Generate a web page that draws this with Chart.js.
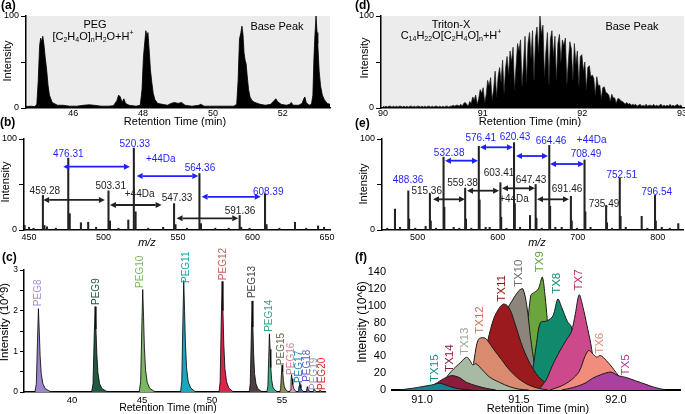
<!DOCTYPE html>
<html>
<head>
<meta charset="utf-8">
<script src="https://cdn.jsdelivr.net/npm/chart.js@4.4.0/dist/chart.umd.min.js"></script>
<style>
  body { margin: 0; background: #fff; width: 685px; height: 414px; position: relative; overflow: hidden; }
  canvas { position: absolute; }
</style>
</head>
<body>
<canvas id="a"></canvas>
<canvas id="d"></canvas>
<canvas id="b"></canvas>
<canvas id="e"></canvas>
<canvas id="c"></canvas>
<canvas id="f"></canvas>
<script>
const F = "'Liberation Sans', Arial, Helvetica, sans-serif";
const BLUE = "#1f1fff";
const DARK = "#222";

// (a) PEG base peak chromatogram
const aTime = [44.65,44.8,44.9,44.96,45.0,45.04,45.07,45.1,45.13,45.16,45.2,45.24,45.28,45.32,45.36,45.4,45.45,45.55,45.7,45.9,
  46.1,46.3,46.45,46.6,46.8,47.0,47.15,47.25,47.3,47.35,47.4,47.45,47.5,47.6,47.8,47.92,47.97,48.01,48.05,48.08,
  48.11,48.14,48.18,48.21,48.25,48.29,48.34,48.42,48.55,48.7,48.8,48.9,49.0,49.1,49.2,49.4,49.6,49.65,49.75,50.0,
  50.3,50.6,50.68,50.72,50.76,50.8,50.83,50.86,50.89,50.92,50.95,50.98,51.02,51.06,51.12,51.2,51.35,51.5,51.65,51.75,
  51.8,51.85,51.95,52.1,52.2,52.24,52.3,52.45,52.55,52.6,52.63,52.67,52.75,52.82,52.86,52.89,52.92,52.95,52.98,53.0,
  53.04,53.08,53.13,53.19,53.27,53.35];
const aInt = [1.5,2,1.5,4,30,68,76,72,78,70,55,42,25,14,10,6,5,3,3,2,
  2,3,3.5,3,2,2,2.5,8,14,12,6,10,5,3,2,3,20,55,72,84,
  78,82,60,42,28,16,9,5,4,3,5,6,5,6,3,2,3,4,2,2,
  2,2,4,30,75,82,89,80,60,52,48,35,20,12,8,6,4,3,4,8,
  10,7,4,3,4,6,3,3,5,10,12,6,3,4,14,54,80,100,82,70,
  40,24,14,9,5,4];
const aXTicks = [46, 48, 50, 52];

// (d) Triton-X base peak, one scan every 0.015 min from 90.00
const dStart = 90.0, dStep = 0.015;
const dInt = [2,1,2,1,2,2,1,2,1,2, 1,2,2,1,2,1,2,1,2,2, 1,2,1,2,2,1,2,1,2,1, 2,2,1,2,1,2,2,1,2,1, 2,1,2,2,1,2,2,3,2,3,
  3,2,4,2,5,6,4,2,7,5, 12,9,14,4,10,20,16,22,6,14, 30,24,33,9,20,40,12,34,44,28,
  52,16,44,56,36,62,50,66,20,45, 70,62,74,24,48,78,28,70,82,55, 84,30,76,88,60,100,80,90,34,62,
  82,26,75,84,56,78,30,70,80,50, 74,68,76,26,52,72,64,30,70,48, 62,24,56,58,40,50,20,44,46,34,
  36,32,14,34,24,25,10,22,23,17, 16,14,7,15,11,11,5,10,10,8, 7,6,4,6,
  4,5,3,4,3,4,2,3,4,2, 3,2,4,2,3,3,2,4,2,3, 2,3,4,2,3,2,3,2,4,2, 3,2,3,4,2,3,2];
const dXTicks = [90, 91, 92, 93];

// (b) PEG mass spectrum
const bMz = [447,450,453,459.28,460.3,462,468,476.31,477.3,484.8,489.7,495,503.31,504.3,510,516.6,520.33,521.5,530,540,
  547.33,548.3,556,564.36,565.4,575,584,591.36,592.4,598,608.39,609.4,618,628.5,636,644,648];
const bInt = [5,3,2,38,5,3.5,2,79,18,8,8.5,3,43,10,2,11,90,20,2,3,
  29,6,2,62,7,2,2,16,3,2,40,6,2,8.5,2,4.5,3];
const bXTicks = [450, 500, 550, 600, 650];
const bLabels = [["476.31",476.3,83.2,BLUE],["520.33",521.0,94.5,BLUE],["+44Da",538.4,77.3,BLUE],["564.36",564.7,67.8,BLUE],
  ["608.39",610.5,41.5,BLUE],["459.28",460.6,42.9,DARK],["503.31",504.8,48.4,DARK],["+44Da",524.2,39.6,DARK],
  ["547.33",549.3,34.8,DARK],["591.36",591.6,20.9,DARK]];
const bArrows = [[472.9,517.7,69.6,BLUE],[522.2,563.6,59.3,BLUE],[565.8,605.5,36.5,BLUE],
  [459.5,500.9,33,DARK],[504.3,539,27.5,DARK],[549,590.4,12.8,DARK]];

// (e) Triton-X mass spectrum
const eMz = [462,471.7,478,488.36,489.4,497,510,515.36,516.4,523,532.38,533.4,545,552,559.38,560.4,567,576.41,577.4,585,
  590,603.41,604.4,611,620.43,621.4,628,640.4,647.43,648.4,655,664.46,665.5,672,680,691.46,692.5,699,708.49,709.5,
  716,735.49,736.5,743,752.51,753.5,760,779.9,787,796.54,797.5,805,815,825.6];
const eInt = [2,23,3,43,12,2,4,40,10,2,80,25,3,2,46,12,2,92,33,3,
  3,52,14,2,96,29,3,16,50,13,2,93,26,3,3,37,10,2,77,20,
  3,27,8,2,57,15,3,15,2,38,10,3,2,7];
const eXTicks = [500, 600, 700, 800];
const eLabels = [["488.36",488.0,55,BLUE],["515.36",511.3,43,DARK],["532.38",539.4,84.6,BLUE],["559.38",556.1,51.6,DARK],
  ["576.41",578.9,101,BLUE],["603.41",601.7,62.6,DARK],["620.43",621.6,101.4,BLUE],["647.43",641.6,55,DARK],
  ["664.46",666.6,97,BLUE],["691.46",686.6,45,DARK],["708.49",710.3,83.5,BLUE],["735.49",732.8,28.6,DARK],
  ["752.51",755.0,60.4,BLUE],["796.54",798.7,41.8,BLUE],["+44Da",717.5,98.9,BLUE],["+44Da",620.4,34,DARK]];
const eArrows = [[534.2,575.4,76.2,BLUE],[577.9,619.1,90.9,BLUE],[622.9,662.9,81.3,BLUE],[665.4,707.9,72.5,BLUE],
  [519.2,559.2,33.7,DARK],[561.7,601.7,43.2,DARK],[605.4,646.6,45.8,DARK],[649.1,689.1,33.7,DARK]];

// (c) extracted PEG oligomer chromatograms [time, intensity 10^9]
const pegNames = ["PEG8","PEG9","PEG10","PEG11","PEG12","PEG13","PEG14","PEG15","PEG16","PEG17","PEG18","PEG19","PEG20"];
const pegPeaks = [
  [[37.35,0],[37.45,0.2],[37.53,1.2],[37.6,2.05],[37.66,1.5],[37.72,0.9],[37.8,0.45],[37.92,0.2],[38.1,0.08],[38.4,0.02],[38.7,0]],
  [[41.4,0],[41.5,0.2],[41.58,1.3],[41.65,2.1],[41.71,1.55],[41.77,0.95],[41.85,0.48],[41.97,0.2],[42.15,0.08],[42.45,0.02],[42.75,0]],
  [[44.8,0],[44.9,0.25],[44.98,1.5],[45.05,2.52],[45.11,1.85],[45.17,1.1],[45.25,0.55],[45.37,0.24],[45.55,0.09],[45.85,0.02],[46.1,0]],
  [[47.75,0],[47.84,0.25],[47.91,1.6],[47.98,2.74],[48.04,2.0],[48.1,1.2],[48.18,0.6],[48.3,0.25],[48.48,0.1],[48.75,0.02],[49.0,0]],
  [[50.5,0],[50.58,0.25],[50.65,1.6],[50.72,2.72],[50.78,2.0],[50.84,1.2],[50.92,0.58],[51.04,0.25],[51.2,0.1],[51.45,0.02],[51.7,0]],
  [[52.66,0],[52.73,0.2],[52.8,1.3],[52.86,2.24],[52.92,1.6],[52.97,0.95],[53.04,0.45],[53.14,0.2],[53.28,0.08],[53.5,0.02],[53.7,0]],
  [[53.92,0],[53.99,0.15],[54.05,0.85],[54.1,1.43],[54.15,1.05],[54.2,0.6],[54.26,0.3],[54.35,0.12],[54.48,0.05],[54.68,0]],
  [[54.84,0],[54.9,0.08],[54.95,0.4],[55.0,0.66],[55.05,0.5],[55.1,0.28],[55.16,0.14],[55.25,0.06],[55.4,0.02],[55.55,0]],
  [[55.54,0],[55.59,0.05],[55.64,0.26],[55.68,0.43],[55.72,0.33],[55.77,0.18],[55.83,0.09],[55.92,0.04],[56.05,0]],
  [[56.13,0],[56.18,0.03],[56.22,0.15],[56.26,0.24],[56.3,0.18],[56.35,0.1],[56.41,0.05],[56.5,0.02],[56.62,0]],
  [[56.68,0],[56.73,0.02],[56.77,0.08],[56.8,0.13],[56.84,0.1],[56.89,0.05],[56.96,0.02],[57.08,0]],
  [[57.17,0],[57.22,0.02],[57.25,0.05],[57.28,0.08],[57.32,0.06],[57.37,0.03],[57.45,0.01],[57.55,0]],
  [[57.6,0],[57.64,0.01],[57.67,0.03],[57.7,0.05],[57.74,0.04],[57.79,0.02],[57.87,0.01],[57.97,0]]
];
const pegFill = ["#9d85cc","#1e5c40","#7cb861","#1aa6bd","#d8264a","#4a4242","#3aa98b","#8c8c58","#e993b4","#2b6cb3","#4f4fc4","#a3969c","#e52424"];
const pegText = ["#a88fd6","#1e5c40","#7cb861","#1a9fb5","#c0605a","#444444","#2fa585","#66664c","#d97a9a","#1f86b0","#5a5ad0","#a095b0","#e52424"];
const pegLabelX = [37.59,41.76,44.85,48.15,50.8,52.88,54.07,54.98,55.64,56.26,56.79,57.29,57.89];
const pegLabelY = [2.11,2.14,2.56,2.68,2.75,2.31,1.48,0.66,0.42,0.22,0.25,0.05,0.05];
const cXTicks = [40, 45, 50, 55];
const cYTicks = [0, 0.5, 1, 1.5, 2, 2.5, 3];

// (f) extracted Triton-X oligomer chromatograms [time, intensity 10^6]
const txNames = ["TX5","TX6","TX7","TX8","TX9","TX10","TX11","TX12","TX13","TX14","TX15"];
const txPeaks = [
  [[91.72,0],[91.78,3],[91.84,8],[91.88,14],[91.92,18],[91.96,21],[91.98,21],[92.01,17],[92.05,15],[92.1,11],[92.15,7],[92.2,3],[92.26,0]],
  [[91.66,0],[91.72,5],[91.77,12],[91.81,22],[91.84,40],[91.86,47],[91.88,43],[91.9,39],[91.92,41],[91.95,35],[91.98,27],[92.02,15],[92.06,8],[92.1,4],[92.16,1],[92.22,0]],
  [[91.6,0],[91.64,12],[91.67,28],[91.7,42],[91.74,58],[91.77,69],[91.79,90],[91.81,113],[91.83,98],[91.85,77],[91.87,55],[91.88,41],[91.9,25],[91.92,14],[91.96,5],[92.0,1],[92.04,0]],
  [[91.52,0],[91.55,8],[91.57,24],[91.59,55],[91.61,80],[91.645,82],[91.675,88],[91.7,108],[91.72,98],[91.75,81],[91.77,75],[91.79,45],[91.81,12],[91.84,3],[91.87,0]],
  [[91.5,0],[91.53,40],[91.56,112],[91.58,116],[91.6,120],[91.62,134],[91.635,110],[91.645,85],[91.66,40],[91.68,10],[91.7,0]],
  [[91.36,0],[91.4,30],[91.44,95],[91.47,108],[91.5,118],[91.52,120],[91.54,100],[91.56,61],[91.58,30],[91.6,12],[91.63,3],[91.66,0]],
  [[91.26,0],[91.3,20],[91.34,60],[91.37,85],[91.4,98],[91.42,102],[91.44,100],[91.46,92],[91.48,78],[91.52,50],[91.56,30],[91.6,16],[91.64,8],[91.68,3],[91.72,0]],
  [[91.22,0],[91.25,10],[91.27,38],[91.29,60],[91.32,62],[91.34,58],[91.37,48],[91.41,36],[91.45,24],[91.5,13],[91.55,6],[91.6,2],[91.65,0]],
  [[91.08,0],[91.11,10],[91.15,22],[91.2,33],[91.23,39],[91.25,34],[91.26,30],[91.28,31],[91.31,24],[91.35,15],[91.4,9],[91.45,4],[91.5,1],[91.55,0]],
  [[91.0,0],[91.06,6],[91.1,12],[91.15,17],[91.19,15],[91.23,9],[91.28,5],[91.33,2],[91.38,0]],
  [[90.88,0],[90.95,2],[91.0,4],[91.05,6],[91.09,8],[91.12,6],[91.16,3],[91.2,1],[91.25,0]]
];
const txFill = ["#a8429e","#f28c7c","#cc4a8c","#108a6c","#6aa63c","#8b857c","#9a1a1e","#da8a6e","#a9baa4","#8c1c3c","#16848c"];
const txText = ["#b03aa4","#e68a78","#b82a64","#128a74","#5ea03a","#6e6e6e","#8c1414","#d27658","#9aaa9a","#8c1c3c","#188c8c"];
const txDepth = [2, 4, 6, 8, 10, 9, 7, 5, 3, 1, 0]; // 0 = front
const txLabelX = [92.052,91.917,91.806,91.694,91.608,91.497,91.411,91.299,91.218,91.144,91.067];
const txLabelY = [29.7,55.4,130.5,126.6,152.3,138.4,120.6,83,57.7,37.8,25.9];
const fXTicks = [91.0, 91.5, 92.0];
const fYTicks = [0, 20, 40, 60, 80, 100, 120, 140];

// formula pieces: [text, 0 normal / -1 subscript / 1 superscript]
const pegFormula = [["[C",0],["2",-1],["H",0],["4",-1],["O]",0],["n",-1],["H",0],["2",-1],["O+H",0],["+",1]];
const tritonFormula = [["C",0],["14",-1],["H",0],["22",-1],["O[C",0],["2",-1],["H",0],["4",-1],["O]",0],["n",-1],["+H",0],["+",1]];

// canvas boxes and plot areas, page pixels
const extras = {
  a: { box: {left: 0, top: 0, w: 340, h: 130}, area: {l: 26, t: 16, r: 330, b: 108}, shade: "#ececec",
       texts: [
         {t: "(a)", x: 1, y: 6, size: 12, bold: true, align: "left"},
         {t: "Intensity", x: 8, y: 61, size: 11, rot: -90},
         {t: "Retention Time (min)", x: 175, y: 122, size: 11},
         {t: "PEG", x: 95, y: 25, size: 11},
         {t: pegFormula, x: 93, y: 37, size: 11},
         {t: "Base Peak", x: 277, y: 27, size: 11}] },
  d: { box: {left: 340, top: 0, w: 345, h: 130}, area: {l: 381, t: 16, r: 684, b: 108}, shade: "#ececec",
       texts: [
         {t: "(d)", x: 355, y: 6, size: 12, bold: true, align: "left"},
         {t: "Intensity", x: 365, y: 58, size: 11, rot: -90},
         {t: "Retention Time (min)", x: 530, y: 122, size: 11},
         {t: "Triton-X", x: 451, y: 25, size: 11},
         {t: tritonFormula, x: 451, y: 36, size: 11},
         {t: "Base Peak", x: 632, y: 27, size: 11}] },
  b: { box: {left: 0, top: 114, w: 340, h: 136}, area: {l: 24, t: 139, r: 330, b: 230},
       marks: bLabels.map(([t, x, y, c]) => ({t, x, y, color: c, size: 10})),
       arrows: bArrows,
       texts: [
         {t: "(b)", x: 0, y: 123, size: 12, bold: true, align: "left"},
         {t: "Intensity", x: 6, y: 182, size: 11, rot: -90},
         {t: "m/z", x: 147, y: 243, size: 11, italic: true}] },
  e: { box: {left: 340, top: 114, w: 345, h: 136}, area: {l: 382, t: 139, r: 683, b: 230},
       marks: eLabels.map(([t, x, y, c]) => ({t, x, y, color: c, size: 10})),
       arrows: eArrows,
       texts: [
         {t: "(e)", x: 355, y: 124, size: 12, bold: true, align: "left"},
         {t: "Intensity", x: 364, y: 184, size: 11, rot: -90},
         {t: "m/z", x: 537, y: 243, size: 11, italic: true}] },
  c: { box: {left: 0, top: 240, w: 340, h: 174}, area: {l: 24, t: 270, r: 325, b: 392},
       marks: pegNames.map((t, i) => ({t, x: pegLabelX[i], y: pegLabelY[i], color: pegText[i], size: 10, rot: -90, align: "left"})),
       texts: [
         {t: "(c)", x: 2, y: 258, size: 12, bold: true, align: "left"},
         {t: "Intensity (10^9)", x: 5, y: 322, size: 11.5, rot: -90},
         {t: "Retention Time (min)", x: 168, y: 408, size: 10.5}] },
  f: { box: {left: 340, top: 240, w: 345, h: 174}, area: {l: 392, t: 272, r: 680, b: 390},
       marks: txNames.map((t, i) => ({t, x: txLabelX[i], y: txLabelY[i], color: txText[i], size: 11.5, rot: -90})),
       texts: [
         {t: "(f)", x: 355, y: 258, size: 12, bold: true, align: "left"},
         {t: "Intensity (10^6)", x: 363, y: 322, size: 12, rot: -90},
         {t: "Retention Time (min)", x: 538, y: 409, size: 11}] }
};

function drawText(ctx, t, x, y, o) {
  const size = o.size || 10;
  const style = (o.italic ? "italic " : "") + (o.bold ? "bold " : "");
  const segs = Array.isArray(t) ? t : [[t, 0]];
  const fontFor = k => style + (k ? Math.round(size * 0.68) : size) + "px " + F;
  ctx.save();
  ctx.translate(x, y);
  if (o.rot) ctx.rotate(o.rot * Math.PI / 180);
  ctx.fillStyle = o.color || "#000";
  ctx.textBaseline = "middle";
  ctx.textAlign = "left";
  let w = 0;
  segs.forEach(([s, k]) => { ctx.font = fontFor(k); w += ctx.measureText(s).width; });
  const align = o.align || "center";
  let cx = align === "center" ? -w / 2 : (align === "right" ? -w : 0);
  segs.forEach(([s, k]) => {
    ctx.font = fontFor(k);
    ctx.fillText(s, cx, k < 0 ? size * 0.3 : (k > 0 ? -size * 0.35 : 0));
    cx += ctx.measureText(s).width;
  });
  ctx.restore();
}

function drawArrow(ctx, x1, x2, y, c) {
  const h = 6, w = 3;
  ctx.save();
  ctx.strokeStyle = c; ctx.fillStyle = c; ctx.lineWidth = 1.8;
  ctx.beginPath(); ctx.moveTo(x1 + h, y); ctx.lineTo(x2 - h, y); ctx.stroke();
  ctx.beginPath(); ctx.moveTo(x1, y); ctx.lineTo(x1 + h, y - w); ctx.lineTo(x1 + h, y + w); ctx.closePath(); ctx.fill();
  ctx.beginPath(); ctx.moveTo(x2, y); ctx.lineTo(x2 - h, y - w); ctx.lineTo(x2 - h, y + w); ctx.closePath(); ctx.fill();
  ctx.restore();
}

const notes = {
  id: "notes",
  beforeDraw(chart) {
    const ex = extras[chart.canvas.id];
    if (!ex.shade) return;
    const a = chart.chartArea, ctx = chart.ctx;
    ctx.save();
    ctx.fillStyle = ex.shade;
    ctx.fillRect(a.left, a.top, a.right - a.left, a.bottom - a.top);
    ctx.restore();
  },
  afterDraw(chart) {
    const ex = extras[chart.canvas.id], ctx = chart.ctx;
    const sx = chart.scales.x, sy = chart.scales.y;
    (ex.arrows || []).forEach(([x1, x2, y, c]) =>
      drawArrow(ctx, sx.getPixelForValue(x1), sx.getPixelForValue(x2), sy.getPixelForValue(y), c));
    (ex.marks || []).forEach(m => drawText(ctx, m.t, sx.getPixelForValue(m.x), sy.getPixelForValue(m.y), m));
    (ex.texts || []).forEach(m => drawText(ctx, m.t, m.x - ex.box.left, m.y - ex.box.top, m));
  }
};

function makeChart(id, type, datasets, sc) {
  const ex = extras[id], box = ex.box, area = ex.area;
  const cv = document.getElementById(id);
  cv.style.left = box.left + "px";
  cv.style.top = box.top + "px";
  cv.width = box.w;
  cv.height = box.h;
  const yW = area.l - box.left, xH = box.top + box.h - area.b;
  return new Chart(cv, {
    type: type,
    data: { datasets: datasets },
    options: {
      responsive: false, animation: false, devicePixelRatio: 1,
      layout: { padding: { top: area.t - box.top, right: box.left + box.w - area.r, left: 0, bottom: 0 } },
      plugins: { legend: { display: false }, tooltip: { enabled: false } },
      scales: {
        x: {
          type: "linear", min: sc.xMin, max: sc.xMax, offset: false,
          afterBuildTicks: s => { s.ticks = sc.xTicks.map(v => ({ value: v })); },
          afterFit: s => { s.height = xH; s.paddingLeft = 0; s.paddingRight = 0; },
          grid: { drawOnChartArea: false, drawTicks: false },
          border: { color: "#000", width: sc.xBorder || 1.5 },
          ticks: { color: "#000", font: { family: F, size: sc.xSize || 9 }, padding: sc.xPad === undefined ? 2 : sc.xPad,
                   maxRotation: 0, autoSkip: false, callback: sc.xFmt || (v => v) }
        },
        y: {
          min: 0, max: sc.yMax,
          afterBuildTicks: s => { s.ticks = sc.yTicks.map(v => ({ value: v })); },
          afterFit: s => { s.width = yW; s.paddingTop = 0; s.paddingBottom = 0; },
          grid: { drawOnChartArea: false, drawTicks: sc.yTick > 0, tickLength: sc.yTick || 0, color: "#000" },
          border: { display: sc.yBorder !== false, color: "#000", width: 1.5 },
          ticks: { color: "#000", font: { family: F, size: sc.ySize || 9 }, padding: sc.yPad || 2,
                   autoSkip: false, callback: sc.yFmt || (v => v) }
        }
      }
    },
    plugins: [notes]
  });
}

const pct = v => (v === 50 ? "" : v);

// (a)
makeChart("a", "line", [{
  data: aTime.map((t, i) => ({ x: t, y: aInt[i] })),
  borderColor: "#000", borderWidth: 0.8, backgroundColor: "#000", fill: "origin", pointRadius: 0, tension: 0
}], { xMin: 44.65, xMax: 53.35, xTicks: aXTicks, xPad: 0, yMax: 100, yTicks: [0, 50, 100], yFmt: pct, yTick: 5, yPad: 2 });

// (d)
makeChart("d", "line", [{
  data: dInt.map((v, i) => ({ x: dStart + i * dStep, y: v })),
  borderColor: "#1a1a1a", borderWidth: 0.7, backgroundColor: "#000", fill: "origin", pointRadius: 0, tension: 0
}], { xMin: 89.98, xMax: 93.02, xTicks: dXTicks, xPad: 0, yMax: 100, yTicks: [0, 50, 100], yFmt: pct, yTick: 5, yPad: 2 });

// (b)
makeChart("b", "bar", [{
  data: bMz.map((m, i) => ({ x: m, y: bInt[i] })),
  backgroundColor: "#222", barThickness: 1.4, grouped: false
}], { xMin: 446.6, xMax: 652, xTicks: bXTicks, yMax: 100, yTicks: [0, 50, 100], yFmt: pct, yTick: 5, yPad: 2 });

// (e)
makeChart("e", "bar", [{
  data: eMz.map((m, i) => ({ x: m, y: eInt[i] })),
  backgroundColor: "#222", barThickness: 1.4, grouped: false
}], { xMin: 455.5, xMax: 831.5, xTicks: eXTicks, yMax: 100, yTicks: [0, 50, 100], yFmt: pct, yTick: 5, yPad: 2 });

// (c)
makeChart("c", "line", pegPeaks.map((pk, i) => ({
  data: pk.map(([t, v]) => ({ x: t, y: v })),
  borderColor: "#000", borderWidth: 0.8, backgroundColor: pegFill[i], fill: "origin", pointRadius: 0, tension: 0
})), { xMin: 36.57, xMax: 58.07, xTicks: cXTicks, xSize: 9.5, xPad: 3, yMax: 3, yTicks: cYTicks,
       yFmt: v => (Number.isInteger(v) ? v : ""), yTick: 4, ySize: 8.5, yPad: 2 });

// (f)
makeChart("f", "line", txPeaks.map((pk, i) => ({
  data: pk.map(([t, v]) => ({ x: t, y: v })),
  borderColor: "#1a1a1a", borderWidth: 1, backgroundColor: txFill[i], fill: "origin",
  pointRadius: 0, tension: 0.3, order: txDepth[i]
})), { xMin: 90.845, xMax: 92.33, xTicks: fXTicks, xSize: 11, xPad: 3, xBorder: 2, xFmt: v => v.toFixed(1),
       yMax: 140, yTicks: fYTicks, ySize: 11, yPad: 6, yBorder: false });
</script>
</body>
</html>
